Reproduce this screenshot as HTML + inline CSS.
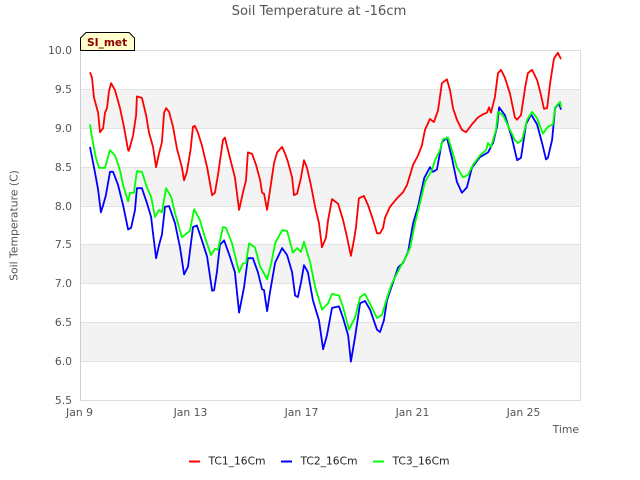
<!DOCTYPE html>
<html>
<head>
<meta charset="utf-8">
<title>Soil Temperature at -16cm</title>
<style>
html,body{margin:0;padding:0;background:#fff;}
svg{display:block;font-family:"DejaVu Sans","Liberation Sans",sans-serif;}
</style>
</head>
<body>
<svg id="chart" xmlns="http://www.w3.org/2000/svg" width="640" height="480" viewBox="0 0 640 480">
<text x="319" y="15" text-anchor="middle" font-size="13.2" fill="#555">Soil Temperature at -16cm</text>
<text transform="translate(17.5,225.5) rotate(-90)" text-anchor="middle" font-size="10.8" fill="#555">Soil Temperature (C)</text>
<text x="579" y="433" text-anchor="end" font-size="10.8" fill="#555">Time</text>
<g id="bands"></g>
<g id="grid"></g>
<g id="ticks"></g>
<g id="series"></g>
<rect x="80.5" y="50.5" width="500" height="350" fill="none" stroke="#dddddd" stroke-width="1"/>
<line x1="80.5" y1="50" x2="80.5" y2="401" stroke="#cfcfcf" stroke-width="1"/>
<g>
<polygon points="80.5,50.5 80.5,38 86,32.5 129,32.5 134.5,38 134.5,50.5" fill="#ffffcc" stroke="#000" stroke-width="1"/>
<text x="87" y="46" font-size="10.6" font-weight="bold" fill="#8b0000">SI_met</text>
</g>
<g>
<g>
<line x1="189" y1="461.5" x2="200" y2="461.5" stroke="#ff0000" stroke-width="2"/>
<text x="208.5" y="464.5" font-size="10.7" fill="#222">TC1_16Cm</text>
</g>
<g>
<line x1="281" y1="461.5" x2="292" y2="461.5" stroke="#0000ff" stroke-width="2"/>
<text x="300.5" y="464.5" font-size="10.7" fill="#222">TC2_16Cm</text>
</g>
<g>
<line x1="373" y1="461.5" x2="384" y2="461.5" stroke="#00ff00" stroke-width="2"/>
<text x="392.5" y="464.5" font-size="10.7" fill="#222">TC3_16Cm</text>
</g>
</g>
</svg>
<script>
var yTicks = [5.5, 6.0, 6.5, 7.0, 7.5, 8.0, 8.5, 9.0, 9.5, 10.0];
var yTickLabels = ["5.5", "6.0", "6.5", "7.0", "7.5", "8.0", "8.5", "9.0", "9.5", "10.0"];
var bandStarts = [6.0, 7.0, 8.0, 9.0];
var xTicks = [0, 4, 8, 12, 16];
var xTickLabels = ["Jan 9", "Jan 13", "Jan 17", "Jan 21", "Jan 25"];

var tc1Days = [.38,.45,.52,.67,.74,.85,.92,.99,1.06,1.14,1.28,1.46,1.60,1.75,1.78,1.93,2.04,2.07,2.25,2.40,2.50,2.65,2.76,2.87,2.97,3.05,3.12,3.23,3.37,3.51,3.69,3.77,3.87,4.00,4.09,4.16,4.27,4.41,4.60,4.78,4.88,4.99,5.17,5.24,5.35,5.60,5.75,5.89,6.00,6.07,6.22,6.36,6.51,6.58,6.65,6.76,6.87,7.01,7.12,7.30,7.40,7.51,7.66,7.73,7.84,7.98,8.09,8.20,8.34,8.49,8.63,8.74,8.88,8.96,9.10,9.32,9.50,9.64,9.78,9.89,9.96,10.07,10.25,10.40,10.58,10.72,10.83,10.94,11.01,11.19,11.44,11.66,11.80,12.02,12.20,12.34,12.45,12.63,12.77,12.92,13.06,13.24,13.35,13.46,13.60,13.78,13.93,14.14,14.36,14.54,14.68,14.76,14.83,14.97,15.08,15.19,15.33,15.51,15.69,15.77,15.91,16.06,16.16,16.31,16.49,16.60,16.74,16.85,16.96,17.10,17.24,17.35];
var tc1Values = [9.72,9.65,9.40,9.20,8.95,9.00,9.20,9.26,9.47,9.58,9.49,9.26,9.02,8.72,8.71,8.91,9.17,9.41,9.39,9.17,8.95,8.76,8.50,8.68,8.82,9.20,9.26,9.21,9.02,8.74,8.50,8.33,8.44,8.72,9.02,9.03,8.94,8.78,8.50,8.14,8.17,8.40,8.85,8.88,8.72,8.37,7.95,8.17,8.33,8.69,8.67,8.53,8.33,8.17,8.16,7.95,8.21,8.55,8.69,8.76,8.68,8.57,8.37,8.14,8.16,8.36,8.59,8.49,8.27,7.99,7.78,7.47,7.59,7.82,8.09,8.03,7.82,7.60,7.36,7.56,7.72,8.10,8.13,8.01,7.82,7.65,7.65,7.72,7.85,7.99,8.10,8.18,8.27,8.53,8.65,8.78,8.98,9.12,9.08,9.23,9.58,9.63,9.49,9.26,9.11,8.98,8.95,9.05,9.14,9.18,9.20,9.27,9.20,9.40,9.71,9.75,9.65,9.45,9.14,9.11,9.17,9.53,9.71,9.75,9.62,9.47,9.25,9.26,9.58,9.90,9.97,9.89];

var tc2Days = [.38,.56,.67,.77,.85,.95,1.10,1.21,1.39,1.57,1.75,1.86,2.00,2.07,2.25,2.43,2.58,2.65,2.76,2.87,2.97,3.08,3.23,3.44,3.62,3.77,3.91,4.09,4.23,4.41,4.60,4.78,4.85,4.95,5.06,5.21,5.42,5.60,5.75,5.93,6.07,6.25,6.43,6.58,6.65,6.76,6.87,7.05,7.30,7.48,7.66,7.77,7.87,7.98,8.09,8.23,8.41,8.63,8.78,8.92,9.10,9.35,9.50,9.68,9.78,9.93,10.11,10.29,10.47,10.72,10.83,10.97,11.08,11.26,11.48,11.66,11.84,12.02,12.20,12.42,12.63,12.74,12.88,13.06,13.24,13.42,13.60,13.78,13.96,14.14,14.43,14.72,14.90,15.05,15.12,15.33,15.58,15.77,15.91,16.09,16.27,16.49,16.67,16.81,16.88,17.03,17.14,17.28,17.35];
var tc2Values = [8.76,8.43,8.21,7.92,8.01,8.14,8.44,8.44,8.27,8.01,7.70,7.72,7.95,8.23,8.23,8.04,7.86,7.65,7.33,7.50,7.63,7.99,8.00,7.78,7.47,7.12,7.22,7.73,7.75,7.56,7.35,6.91,6.92,7.15,7.50,7.56,7.35,7.15,6.63,6.96,7.33,7.33,7.15,6.93,6.92,6.65,6.90,7.27,7.46,7.37,7.15,6.85,6.83,7.01,7.24,7.15,6.79,6.53,6.16,6.34,6.69,6.71,6.56,6.34,6.00,6.32,6.75,6.78,6.67,6.41,6.38,6.53,6.79,6.98,7.21,7.27,7.41,7.78,7.99,8.36,8.50,8.44,8.47,8.82,8.88,8.62,8.31,8.17,8.24,8.49,8.63,8.69,8.81,9.02,9.27,9.17,8.88,8.59,8.62,9.05,9.18,9.05,8.81,8.60,8.62,8.85,9.26,9.32,9.24];

var tc3Days = [.38,.45,.59,.70,.92,1.10,1.28,1.46,1.57,1.75,1.82,1.96,2.07,2.25,2.43,2.58,2.72,2.87,2.97,3.12,3.30,3.44,3.69,3.98,4.13,4.34,4.52,4.74,4.88,4.99,5.17,5.28,5.50,5.75,5.89,6.00,6.11,6.32,6.51,6.61,6.76,6.90,7.05,7.30,7.48,7.69,7.84,7.98,8.09,8.31,8.49,8.74,8.96,9.10,9.35,9.50,9.71,9.93,10.11,10.29,10.54,10.72,10.90,11.08,11.26,11.55,11.80,11.91,12.09,12.27,12.45,12.70,12.81,12.99,13.10,13.28,13.42,13.60,13.82,14.00,14.18,14.43,14.65,14.72,14.83,15.01,15.08,15.26,15.51,15.69,15.80,15.95,16.13,16.31,16.49,16.70,16.88,17.06,17.14,17.32,17.35];
var tc3Values = [9.05,8.88,8.62,8.49,8.49,8.72,8.65,8.46,8.27,8.06,8.17,8.17,8.45,8.44,8.24,8.12,7.86,7.95,7.92,8.23,8.12,7.91,7.60,7.68,7.96,7.82,7.60,7.37,7.45,7.44,7.73,7.72,7.52,7.15,7.26,7.27,7.52,7.47,7.22,7.16,7.06,7.25,7.52,7.69,7.68,7.40,7.46,7.41,7.54,7.28,6.96,6.67,6.75,6.87,6.85,6.70,6.41,6.57,6.83,6.87,6.69,6.56,6.60,6.82,7.01,7.21,7.37,7.46,7.78,8.04,8.31,8.46,8.59,8.72,8.86,8.88,8.72,8.50,8.37,8.40,8.53,8.65,8.72,8.81,8.76,8.98,9.21,9.17,8.98,8.85,8.81,8.85,9.11,9.21,9.13,8.93,9.02,9.05,9.27,9.34,9.27];

var NS = "http://www.w3.org/2000/svg";
function xScale(d) { return 79.5 + d * 27.75; }
function yScale(v) { return 400.5 - (v - 5.5) * (350 / 4.5); }
function make(tag, attrs, parent) {
  var el = document.createElementNS(NS, tag);
  for (var k in attrs) { el.setAttribute(k, attrs[k]); }
  parent.appendChild(el);
  return el;
}
var bandsG = document.getElementById("bands");
var gridG = document.getElementById("grid");
var ticksG = document.getElementById("ticks");
var seriesG = document.getElementById("series");

bandStarts.forEach(function (v) {
  var r = make("rect", {x: 80.5, y: yScale(v + 0.5), width: 500, height: yScale(v) - yScale(v + 0.5), fill: "#f3f3f3"}, bandsG);
  
  
});
yTicks.forEach(function (v, i) {
  var y = Math.round(yScale(v) - 0.5) + 0.5;
  var l = make("line", {x1: 80.5, x2: 580.5, y1: y, y2: y, stroke: "#e2e2e2", "stroke-width": 1}, gridG);
  
  
  var t = make("text", {x: 72, y: y + 3.5, "text-anchor": "end", "font-size": 10.8, fill: "#555"}, ticksG);
  
  
  t.textContent = yTickLabels[i];
});
xTicks.forEach(function (d, i) {
  var t = make("text", {x: xScale(d), y: 416, "text-anchor": "middle", "font-size": 10.8, fill: "#555"}, ticksG);
  
  
  t.textContent = xTickLabels[i];
});
function drawLine(days, values, color) {
  var pts = days.map(function (d, i) { return xScale(d).toFixed(1) + "," + yScale(values[i]).toFixed(1); });
  return make("polyline", {points: pts.join(" "), fill: "none", stroke: color, "stroke-width": 1.8, "stroke-linejoin": "round"}, seriesG);
}
var line1 = drawLine(tc1Days, tc1Values, "#ff0000");


var line2 = drawLine(tc2Days, tc2Values, "#0000ff");


var line3 = drawLine(tc3Days, tc3Values, "#00ff00");


</script>
</body>
</html>
